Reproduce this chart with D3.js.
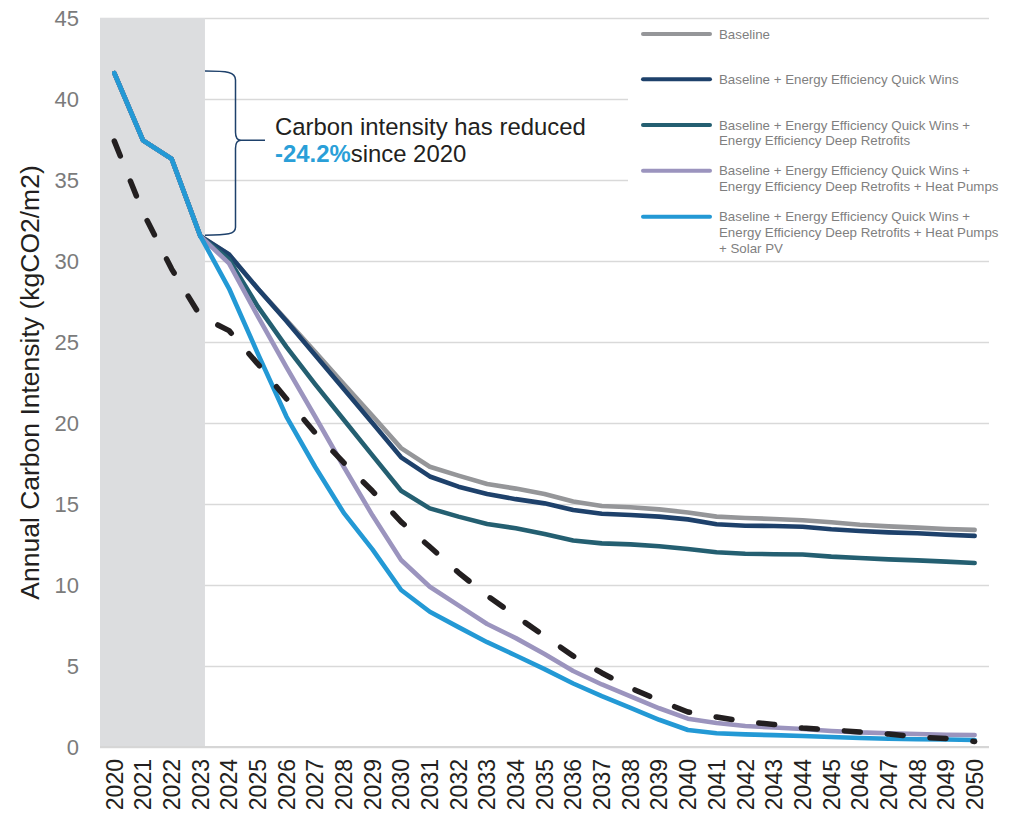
<!DOCTYPE html>
<html>
<head>
<meta charset="utf-8">
<script src="https://cdn.jsdelivr.net/npm/d3@7"></script>
<style>
  html, body { margin: 0; padding: 0; background: #fff; }
  svg { display: block; font-family: "Liberation Sans", Arial, sans-serif; }
</style>
</head>
<body>
<svg id="chart" width="1018" height="817"></svg>
<script>
// Years on the category axis
const years = d3.range(2020, 2051).map(String);

// Pathway scenarios (kgCO2/m2 per year)
const baseline = [41.6, 37.45, 36.3, 31.53, 30.4, 28.3, 26.35, 24.4, 22.4, 20.45, 18.45, 17.3, 16.75, 16.23, 15.95, 15.62, 15.15, 14.88, 14.8, 14.67, 14.48, 14.22, 14.14, 14.07, 14.0, 13.87, 13.72, 13.62, 13.54, 13.46, 13.4];
const quickWins = [41.6, 37.45, 36.3, 31.53, 30.4, 28.3, 26.3, 24.2, 22.1, 20.0, 17.88, 16.7, 16.07, 15.62, 15.3, 15.04, 14.63, 14.4, 14.32, 14.22, 14.05, 13.75, 13.66, 13.64, 13.6, 13.44, 13.33, 13.25, 13.19, 13.1, 13.03];
const deepRetrofits = [41.6, 37.45, 36.3, 31.53, 30.1, 27.2, 24.7, 22.4, 20.2, 18.0, 15.82, 14.73, 14.22, 13.77, 13.5, 13.15, 12.75, 12.57, 12.51, 12.39, 12.22, 12.02, 11.93, 11.9, 11.88, 11.75, 11.67, 11.58, 11.52, 11.44, 11.36];
const heatPumps = [41.6, 37.45, 36.3, 31.53, 29.85, 26.6, 23.45, 20.4, 17.3, 14.3, 11.54, 9.89, 8.74, 7.59, 6.72, 5.74, 4.69, 3.86, 3.12, 2.39, 1.75, 1.48, 1.3, 1.2, 1.11, 0.99, 0.9, 0.85, 0.8, 0.76, 0.74];
const solarPV = [41.6, 37.45, 36.3, 31.53, 28.3, 24.3, 20.4, 17.3, 14.45, 12.2, 9.69, 8.35, 7.4, 6.47, 5.65, 4.81, 3.92, 3.14, 2.41, 1.68, 1.05, 0.85, 0.78, 0.73, 0.68, 0.62, 0.56, 0.51, 0.48, 0.46, 0.43];

// Decarbonisation target trajectory (dashed)
const target = [37.4, 33.0, 29.5, 26.6, 25.7, 23.65, 21.5, 19.4, 17.55, 15.8, 13.9, 12.36, 10.77, 9.34, 8.08, 6.85, 5.62, 4.57, 3.64, 2.87, 2.16, 1.85, 1.57, 1.39, 1.17, 1.05, 0.93, 0.8, 0.62, 0.52, 0.34];

// Historic period (shaded)
const historicYears = ["2020", "2021", "2022", "2023"];

// Y axis ticks
const yTicks = [0, 5, 10, 15, 20, 25, 30, 35, 40, 45];

// Legend labels (wrapped lines)
const legendLabels = [
  ["Baseline"],
  ["Baseline + Energy Efficiency Quick Wins"],
  ["Baseline + Energy Efficiency Quick Wins +", "Energy Efficiency Deep Retrofits"],
  ["Baseline + Energy Efficiency Quick Wins +", "Energy Efficiency Deep Retrofits + Heat Pumps"],
  ["Baseline + Energy Efficiency Quick Wins +", "Energy Efficiency Deep Retrofits + Heat Pumps", "+ Solar PV"]
];
const seriesColors = ["#959699", "#1e416b", "#245f71", "#9b94be", "#2399d5"];
const seriesValues = [baseline, quickWins, deepRetrofits, heatPumps, solarPV];

const reductionLabel = "-24.2%";

const svg = d3.select("#chart");
const W = 1018, H = 817;
const plot = { left: 100, right: 989, top: 18, bottom: 747 };

const x = d3.scaleBand().domain(years).range([plot.left, plot.right]).paddingInner(0).paddingOuter(0);
const xc = d => x(d) + x.bandwidth() / 2;
const y = d3.scaleLinear().domain([0, 45]).range([plot.bottom, plot.top]);

svg.append("rect").attr("width", W).attr("height", H).attr("fill", "#fff");

// Gridlines
const grid = svg.append("g")
  .attr("transform", `translate(${plot.left},0)`)
  .call(d3.axisLeft(y).tickValues(yTicks).tickSize(-(plot.right - plot.left)).tickFormat(""));
grid.select(".domain").remove();
grid.selectAll(".tick line").attr("stroke", "#d9d9d9").attr("stroke-width", 1.6);

// Historic shading
const shadeRight = xc(historicYears[historicYears.length - 1]) + x.bandwidth() * 0.16;
svg.append("rect")
  .attr("x", x(historicYears[0]))
  .attr("y", y(45))
  .attr("width", shadeRight - x(historicYears[0]))
  .attr("height", y(0) - y(45))
  .attr("fill", "#dcdddf");

// Baseline axis line
svg.append("line")
  .attr("x1", plot.left).attr("x2", plot.right)
  .attr("y1", y(0)).attr("y2", y(0))
  .attr("stroke", "#d6d6d6").attr("stroke-width", 2);

// Legend background
svg.append("rect")
  .attr("x", 628).attr("y", y(45) + 2)
  .attr("width", W - 628).attr("height", y(30) - y(45) - 4)
  .attr("fill", "#fff");

// Y tick labels
const yAxis = svg.append("g")
  .attr("transform", `translate(${plot.left},0)`)
  .call(d3.axisLeft(y).tickValues(yTicks).tickSize(0).tickPadding(21));
yAxis.select(".domain").remove();
yAxis.selectAll("text")
  .attr("fill", "#7b7b7b")
  .style("font-size", "22px")
  .style("font-family", "'Liberation Sans', Arial, sans-serif");

// X tick labels (vertical)
const xAxis = svg.append("g")
  .attr("transform", `translate(0,${plot.bottom})`)
  .call(d3.axisBottom(x).tickSize(0));
xAxis.select(".domain").remove();
xAxis.selectAll("text")
  .attr("transform", "rotate(-90)")
  .attr("x", -12).attr("y", 0).attr("dy", "0.36em")
  .style("text-anchor", "end")
  .attr("fill", "#231f20")
  .style("font-size", "23px")
  .style("font-family", "'Liberation Sans', Arial, sans-serif");

// Y axis title
svg.append("text")
  .attr("transform", `translate(39,${(plot.top + plot.bottom) / 2}) rotate(-90)`)
  .attr("text-anchor", "middle")
  .attr("fill", "#231f20")
  .style("font-size", "26.5px")
  .text("Annual Carbon Intensity (kgCO2/m2)");

// Scenario lines
const line = d3.line().x((d, i) => xc(years[i])).y(d => y(d));
seriesValues.forEach((vals, k) => {
  svg.append("path")
    .datum(vals)
    .attr("d", line)
    .attr("fill", "none")
    .attr("stroke", seriesColors[k])
    .attr("stroke-width", 4.6)
    .attr("stroke-linejoin", "round")
    .attr("stroke-linecap", "round");
});

// Target trajectory
svg.append("path")
  .datum(target)
  .attr("d", line)
  .attr("fill", "none")
  .attr("stroke", "#231f20")
  .attr("stroke-width", 5.5)
  .attr("stroke-dasharray", "16 27")
  .attr("stroke-linecap", "round")
  .attr("stroke-linejoin", "round");

// Brace spanning the reduction since 2020
const bTop = y(solarPV[0]) - 2;
const bBot = y(solarPV[3]) - 1;
const bTip = y(solarPV[1]);
const bx0 = shadeRight, bx1 = 235.5, bTipEnd = 265;
svg.append("path")
  .attr("d", `M${bx0},${bTop} C${bx1 - 8},${bTop} ${bx1},${bTop + 1} ${bx1},${bTop + 9}`
    + ` V${bTip - 8} C${bx1},${bTip - 3} ${bx1 + 1.5},${bTip} ${bx1 + 5.5},${bTip} H${bTipEnd}`
    + ` M${bx1 + 5.5},${bTip} C${bx1 + 1.5},${bTip} ${bx1},${bTip + 3} ${bx1},${bTip + 8}`
    + ` V${bBot - 8} C${bx1},${bBot - 1} ${bx1 - 8},${bBot} ${bx0},${bBot}`)
  .attr("fill", "none")
  .attr("stroke", "#1e416b")
  .attr("stroke-width", 1.5);

// Annotation
const ann = svg.append("text")
  .attr("x", 275).attr("y", 135)
  .attr("fill", "#231f20")
  .style("font-size", "23.9px");
ann.append("tspan").attr("x", 275).attr("y", 135).text("Carbon intensity has reduced");
const l2 = ann.append("tspan").attr("x", 275).attr("y", 162);
l2.append("tspan").attr("fill", "#2a9fd8").attr("font-weight", "bold").text(reductionLabel);
l2.append("tspan").text("since 2020");

// Legend
const legendTops = [34, 79.3, 125, 170.7, 216.7];
const legend = svg.append("g");
legendLabels.forEach((lines, k) => {
  const cy = legendTops[k];
  legend.append("line")
    .attr("x1", 643).attr("x2", 710)
    .attr("y1", cy).attr("y2", cy)
    .attr("stroke", seriesColors[k])
    .attr("stroke-width", 4)
    .attr("stroke-linecap", "round");
  const t = legend.append("text")
    .attr("fill", "#7f7f7f")
    .style("font-size", "13.3px");
  lines.forEach((s, j) => {
    t.append("tspan").attr("x", 719).attr("y", cy + 4.6 + j * 15.6).text(s);
  });
});
</script>
</body>
</html>
